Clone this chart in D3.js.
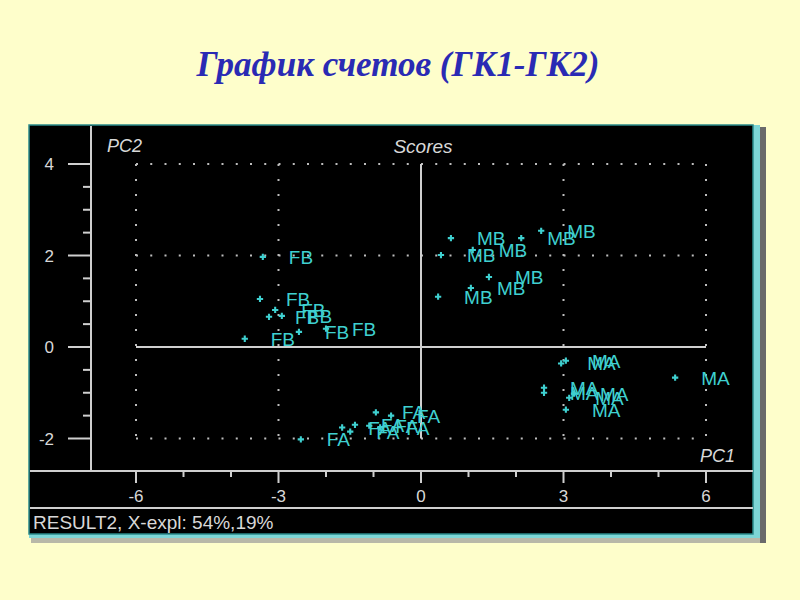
<!DOCTYPE html>
<html>
<head>
<meta charset="utf-8">
<script src="https://cdn.jsdelivr.net/npm/d3@7"></script>
<style>
body { margin: 0; background: #fefecb; }
svg { display: block; }
.tick-label { font-family: "Liberation Sans", Arial, sans-serif; font-size: 17px; fill: #d8d8d8; }
.axis-name { font-family: "Liberation Sans", Arial, sans-serif; font-size: 18px; font-style: italic; fill: #d8d8d8; }
.name { font-family: "Liberation Sans", Arial, sans-serif; font-size: 19px; fill: #3fd0d0; }
</style>
</head>
<body>
<script>
// scores, one pair of arrays per group
var fbPC1 = [-3.33, -3.39, -3.07, -3.20, -2.93, -3.71, -2.57, -2.00];
var fbPC2 = [1.97, 1.05, 0.81, 0.66, 0.68, 0.18, 0.33, 0.40];
var mbPC1 = [0.63, 0.42, 1.09, 2.11, 2.53, 1.43, 1.05, 0.36];
var mbPC2 = [2.38, 2.01, 2.12, 2.38, 2.54, 1.53, 1.29, 1.10];
var maPC1 = [5.35, 3.05, 2.95, 2.59, 2.59, 3.12, 3.05, 3.22];
var maPC2 = [-0.67, -0.30, -0.36, -0.89, -1.00, -1.11, -1.37, -1.02];
var faPC1 = [-2.53, -1.66, -1.39, -1.49, -0.95, -1.09, -0.86, -0.63];
var faPC2 = [-2.02, -1.76, -1.70, -1.85, -1.43, -1.72, -1.76, -1.50];

var groups = ["FB", "MB", "MA", "FA"];
var xMajor = [-6, -3, 0, 3, 6];
var xMinor = [-5, -4, -2, -1, 1, 2, 4, 5];
var yMajor = [-2, 0, 2, 4];
var yMinor = [-1.5, -1, -0.5, 0.5, 1, 1.5, 2.5, 3, 3.5];
var gridX = [-6, -3, 3, 6];
var gridY = [-2, 2, 4];

var title = "График счетов (ГК1-ГК2)";
var status = "RESULT2, X-expl: 54%,19%";

var svg = d3.select("body").append("svg")
    .attr("width", 800)
    .attr("height", 600);

svg.append("text")
    .attr("x", 398)
    .attr("y", 76)
    .attr("text-anchor", "middle")
    .style("font-family", "'Liberation Serif', 'Times New Roman', serif")
    .style("font-size", "35px")
    .style("font-weight", "bold")
    .style("font-style", "italic")
    .style("fill", "#2a2ab4")
    .text(title);

// window frame
svg.append("rect").attr("x", 31).attr("y", 538).attr("width", 735).attr("height", 5).attr("fill", "#b8b8a8");
svg.append("rect").attr("x", 760).attr("y", 127).attr("width", 6).attr("height", 416).attr("fill", "#6a6a6a");
svg.append("rect").attr("x", 29).attr("y", 125).attr("width", 731).attr("height", 413).attr("fill", "#7dd6d6");
svg.append("rect").attr("x", 29).attr("y", 125).attr("width", 724).attr("height", 409)
    .attr("fill", "#000")
    .attr("stroke", "#2a8a8a")
    .attr("stroke-width", 1.5);

var x = d3.scaleLinear().domain([-6, 6]).range([136, 706]);
var y = d3.scaleLinear().domain([-2, 4]).range([438.5, 164]);

var axisCol = "#cfcfcf";
var g = svg.append("g");

// dotted grid
gridX.forEach(function (v) {
    g.append("line")
        .attr("x1", x(v)).attr("x2", x(v))
        .attr("y1", y(4)).attr("y2", y(-2))
        .attr("stroke", "#bdbdbd").attr("stroke-width", 2)
        .attr("stroke-dasharray", "2,13");
});
gridY.forEach(function (v) {
    g.append("line")
        .attr("x1", x(-6)).attr("x2", x(6))
        .attr("y1", y(v)).attr("y2", y(v))
        .attr("stroke", "#bdbdbd").attr("stroke-width", 2)
        .attr("stroke-dasharray", "2,12.25");
});

// zero lines
g.append("line")
    .attr("x1", x(0)).attr("x2", x(0))
    .attr("y1", y(4)).attr("y2", y(-2))
    .attr("stroke", axisCol).attr("stroke-width", 2);
g.append("line")
    .attr("x1", x(-6)).attr("x2", x(6))
    .attr("y1", y(0)).attr("y2", y(0))
    .attr("stroke", axisCol).attr("stroke-width", 2);

// frame lines of the plot
var axisX = 91, axisY = 471;
g.append("line").attr("x1", axisX).attr("x2", axisX).attr("y1", 126).attr("y2", axisY)
    .attr("stroke", axisCol).attr("stroke-width", 2);
g.append("line").attr("x1", 30).attr("x2", 753).attr("y1", axisY).attr("y2", axisY)
    .attr("stroke", axisCol).attr("stroke-width", 2);
g.append("line").attr("x1", 30).attr("x2", 753).attr("y1", 508).attr("y2", 508)
    .attr("stroke", axisCol).attr("stroke-width", 2);

// y axis ticks
yMajor.forEach(function (v) {
    g.append("line").attr("x1", 68).attr("x2", axisX).attr("y1", y(v)).attr("y2", y(v))
        .attr("stroke", axisCol).attr("stroke-width", 2);
    g.append("text").attr("class", "tick-label")
        .attr("x", 54).attr("y", y(v) + 6)
        .attr("text-anchor", "end")
        .text(v);
});
yMinor.forEach(function (v) {
    g.append("line").attr("x1", 83).attr("x2", axisX).attr("y1", y(v)).attr("y2", y(v))
        .attr("stroke", axisCol).attr("stroke-width", 2);
});

// x axis ticks
xMajor.forEach(function (v) {
    g.append("line").attr("x1", x(v)).attr("x2", x(v)).attr("y1", axisY).attr("y2", axisY + 12)
        .attr("stroke", axisCol).attr("stroke-width", 2);
    g.append("text").attr("class", "tick-label")
        .attr("x", x(v)).attr("y", 502)
        .attr("text-anchor", "middle")
        .text(v);
});
xMinor.forEach(function (v) {
    g.append("line").attr("x1", x(v)).attr("x2", x(v)).attr("y1", axisY).attr("y2", axisY + 6)
        .attr("stroke", axisCol).attr("stroke-width", 2);
});

g.append("text").attr("class", "axis-name").attr("x", 107).attr("y", 152).text("PC2");
g.append("text").attr("class", "axis-name").attr("x", 423).attr("y", 153)
    .attr("text-anchor", "middle").style("font-size", "19px").text("Scores");
g.append("text").attr("class", "axis-name").attr("x", 735).attr("y", 462)
    .attr("text-anchor", "end").text("PC1");

g.append("text")
    .attr("x", 33).attr("y", 529)
    .style("font-family", "'Liberation Sans', Arial, sans-serif")
    .style("font-size", "19px")
    .style("fill", "#d8d8d8")
    .text(status);

// score points with their names
var series = [[fbPC1, fbPC2], [mbPC1, mbPC2], [maPC1, maPC2], [faPC1, faPC2]];
var marker = d3.symbol().type(d3.symbolCross).size(22);

series.forEach(function (s, i) {
    for (var j = 0; j < s[0].length; j++) {
        var px = x(s[0][j]), py = y(s[1][j]);
        g.append("path")
            .attr("d", marker)
            .attr("transform", "translate(" + px + "," + py + ")")
            .attr("fill", "#3fd0d0");
        g.append("text").attr("class", "name")
            .attr("x", px + 26)
            .attr("y", py + 7)
            .text(groups[i]);
    }
});
</script>
</body>
</html>
